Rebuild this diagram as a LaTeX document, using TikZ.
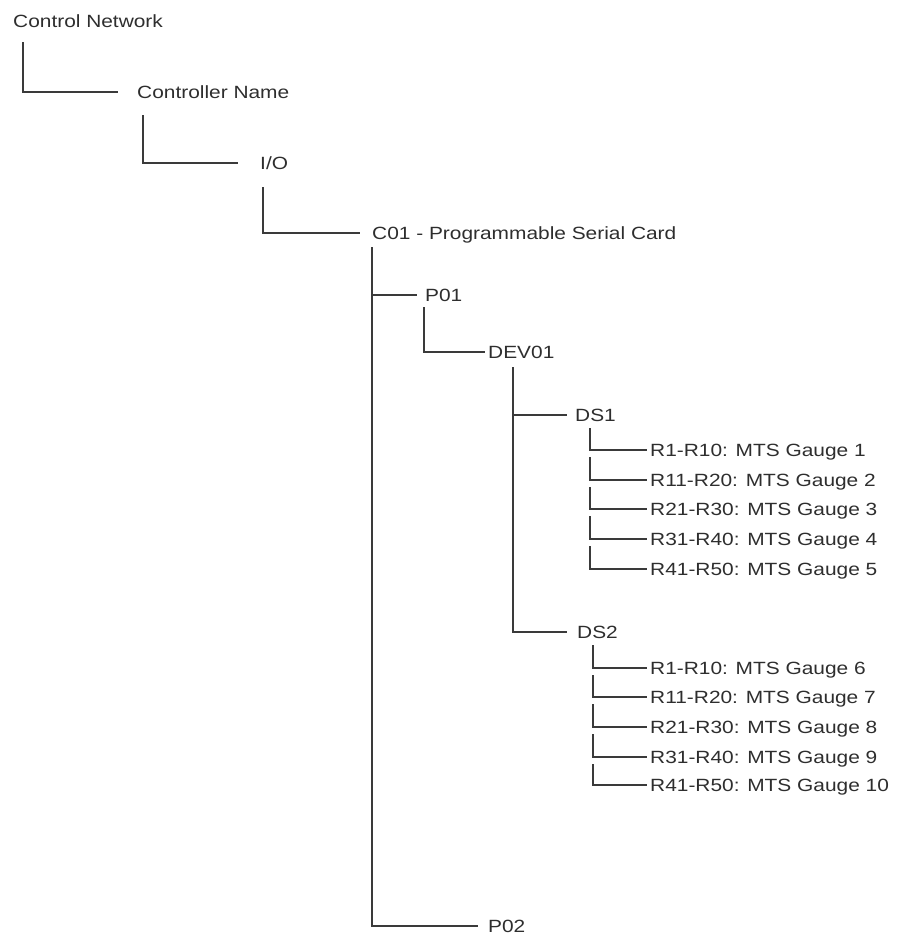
\documentclass[tikz,border=0pt]{standalone}
\usepackage{fontspec}
\setmainfont{Liberation Sans}[FakeStretch=1.18]
\usetikzlibrary{calc}
\definecolor{ink}{HTML}{2E2E2E}
\definecolor{wireink}{HTML}{3A3A3A}
\tikzset{
  lbl/.style={anchor=west,inner sep=0pt,text height=12.6pt,text depth=0pt,text=ink,
    font=\fontsize{17.7}{20}\selectfont},
  wire/.style={draw=wireink,line width=1.5pt}
}

\begin{document}
\begin{tikzpicture}[x=1pt,y=-1pt]
    \useasboundingbox (0,0) rectangle (898,937);
    \node[lbl](net) at (13,21){Control Network};
    \node[lbl](ctrl) at (137,92){Controller Name};
    \node[lbl](io) at (260,163){I/O};
    \node[lbl](card) at (372,233){C01 - Programmable Serial Card};
    \node[lbl](p1) at (425,295){P01};
    \node[lbl](dev) at (488,352){DEV01};
    \node[lbl](ds1) at (575,415){DS1};
    \node[lbl](ds2) at (577,632){DS2};
    \node[lbl](p2) at (488,926){P02};
    \foreach \i/\r/\y in {1/R1-R10/450,2/R11-R20/480,3/R21-R30/509,4/R31-R40/539,5/R41-R50/569}
      \node[lbl](g\i) at (650,\y){\r: MTS Gauge \i};
    \foreach \i/\r/\y in {6/R1-R10/668,7/R11-R20/697,8/R21-R30/727,9/R31-R40/757,10/R41-R50/785}
      \node[lbl](g\i) at (650,\y){\r: MTS Gauge \i};
    \draw[wire] ($(net.west)+(10,21)$) |- ([xshift=-19pt]ctrl.west);
    \draw[wire] ($(ctrl.west)+(6,23)$) |- ([xshift=-22pt]io.west);
    \draw[wire] ($(io.west)+(3,24)$) |- ([xshift=-12pt]card.west);
    \draw[wire] ($(card.west)+(0,14)$) |- ([xshift=-10pt]p2.west);
    \draw[wire] ($(card.west)+(0,62)$) -- ([xshift=-8pt]p1.west);
    \draw[wire] ($(p1.west)+(-1,12)$) |- ([xshift=-3pt]dev.west);
    \draw[wire] ($(dev.west)+(25,15)$) |- ([xshift=-10pt]ds2.west);
    \draw[wire] ($(dev.west)+(25,63)$) -- ([xshift=-8pt]ds1.west);
    \draw[wire] ($(ds1.west)+(15,13)$) |- ([xshift=-3pt]g1.west);
    \foreach \a/\b in {1/2,2/3,3/4,4/5}
      \draw[wire] ($(ds1.west|-g\a.west)+(15,7)$) |- ([xshift=-3pt]g\b.west);
    \draw[wire] ($(ds2.west)+(16,13)$) |- ([xshift=-3pt]g6.west);
    \foreach \a/\b in {6/7,7/8,8/9,9/10}
      \draw[wire] ($(ds2.west|-g\a.west)+(16,7)$) |- ([xshift=-3pt]g\b.west);
\end{tikzpicture}
\end{document}
